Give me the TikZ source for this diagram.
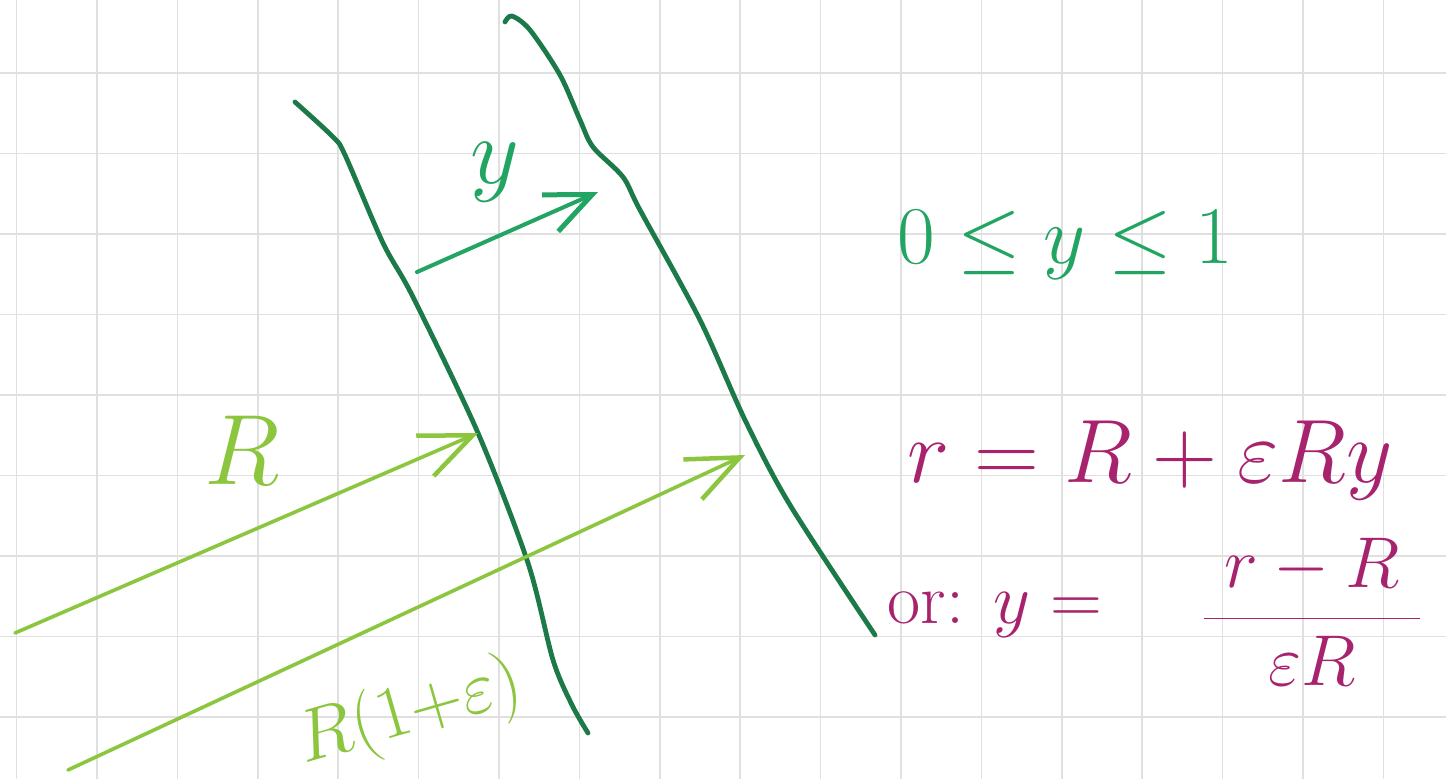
\RequirePackage{fix-cm}
\documentclass[tikz,border=0pt]{standalone}
\usepackage{amsmath}
\usetikzlibrary{arrows.meta}
\definecolor{gridgray}{HTML}{E0E0E0}
\definecolor{walldark}{HTML}{1B7A47}
\definecolor{lightgreen}{HTML}{8CC63F}
\definecolor{midgreen}{HTML}{22A562}
\definecolor{magentaink}{HTML}{A8236E}
\tikzset{
  gridline/.style={draw=gridgray, line width=1.6pt},
  wall/.style={draw=walldark, line width=4.8pt, line cap=round, line join=round},
  radius arrow/.style={draw=lightgreen, line width=3.6pt, line cap=round,
    -{Straight Barb[length=52pt,width=44pt,line width=4.5pt]}},
  ystep arrow/.style={draw=midgreen, line width=4pt, line cap=round,
    -{Straight Barb[length=46pt,width=40pt,line width=5pt]}},
  greenlabel/.style={text=lightgreen, inner sep=0pt},
  inklabel/.style={text=midgreen, inner sep=0pt},
  pinklabel/.style={text=magentaink, inner sep=0pt},
}
\begin{document}
\begin{tikzpicture}[x=1pt,y=-1pt]
\useasboundingbox (0,0) rectangle (1446,779);
\fill[white] (0,0) rectangle (1446,779);
% grid
\foreach \i in {0,...,17} \draw[gridline] ({16.5+80.4*\i},0) -- ({16.5+80.4*\i},779);
\foreach \j in {0,...,8} \draw[gridline] (0,{73+80.5*\j}) -- (1446,{73+80.5*\j});
% walls
\draw[wall] plot[smooth, tension=0.5] coordinates {(295,102) (333,137) (345,155) (383,243) (413,297) (478,433) (528,563) (553,660) (572,705) (588,733)};
\draw[wall] plot[smooth, tension=0.5] coordinates {(505,22) (512,16) (530,30) (560,75) (580,120) (593,147) (623,177) (640,210) (700,320) (745,420) (790,505) (875,635)};
% coordinates
\coordinate (r0) at (15,633);
\coordinate (r1) at (478,433);
\coordinate (q0) at (68,770);
\coordinate (q1) at (745,455);
\coordinate (y0) at (417,272);
\coordinate (y1) at (598,192);
% arrows
\draw[radius arrow] (r0) -- (r1);
\draw[radius arrow] (q0) -- (q1);
\draw[ystep arrow] (y0) -- (y1);
% labels
\node[greenlabel, font=\fontsize{100}{110}\selectfont] (lR) at (242,450) {$R$};
\node[greenlabel, rotate=16, font=\fontsize{74}{86}\selectfont] (lRe) at (410,714) {$R(1{+}\varepsilon)$};
\node[inklabel, font=\fontsize{95}{110}\selectfont] (ly) at (495,172) {$y$};
\node[inklabel, font=\fontsize{82}{100}\selectfont] (ineq) at (1065,245) {$0\le y\le 1$};
\node[pinklabel, font=\fontsize{90}{100}\selectfont] (req) at (1150,460) {$r = R + \varepsilon R y$};
\node[pinklabel, font=\fontsize{72}{90}\selectfont] (orlab) at (995,615) {or: $y =$};
\node[pinklabel, font=\fontsize{72}{90}\selectfont] (frac) at (1312,612) {$\dfrac{\;r-R\;}{\;\varepsilon R\;}$};
\end{tikzpicture}
\end{document}
